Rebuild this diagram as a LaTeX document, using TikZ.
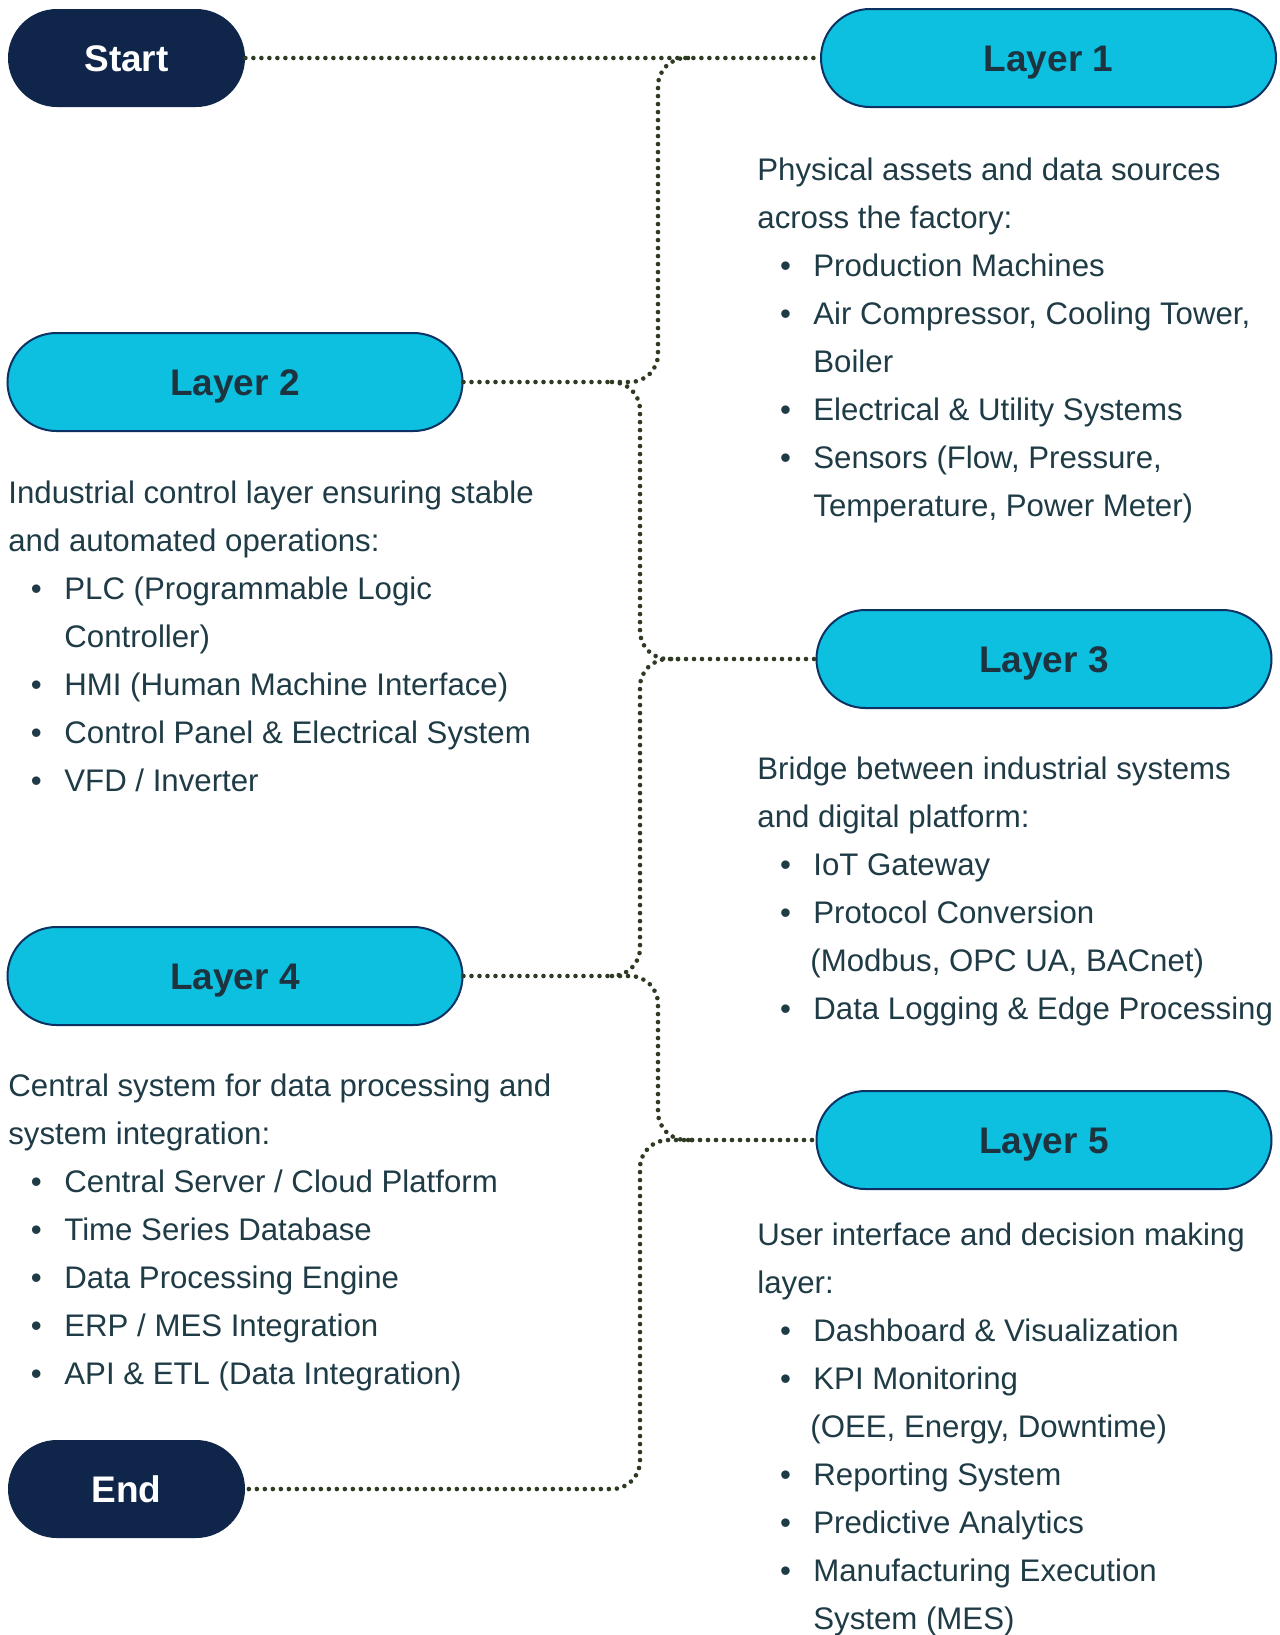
\documentclass[tikz,border=0pt]{standalone}
\usepackage{fontspec}
\setmainfont{Liberation Sans}
\usetikzlibrary{positioning,calc}

\definecolor{navy}{HTML}{0F2549}
\definecolor{layercyan}{HTML}{0DC0DF}
\definecolor{layerline}{HTML}{0B3263}
\definecolor{titletext}{HTML}{1D3440}
\definecolor{bodytext}{HTML}{1F3B46}
\definecolor{dotcolor}{HTML}{2E3B22}

\tikzstyle{block}=[align=center, rectangle, rounded corners=24.5pt, minimum height=49pt, text height=13.3pt, text depth=0pt, font=\bfseries\fontsize{18.5}{22}\selectfont]
\tikzstyle{terminal}=[block, fill=navy, text=white, minimum width=118.5pt]
\tikzstyle{layer}=[block, fill=layercyan, draw=layerline, line width=1pt, text=titletext, minimum width=227.5pt]
\tikzstyle{info}=[anchor=north west, inner sep=0pt, align=left, text=bodytext, font=\fontsize{15.6}{24}\selectfont]
\tikzstyle{link}=[draw=dotcolor, line width=2.3pt, line cap=round, dash pattern=on 0pt off 4pt, rounded corners=14pt]

\newcommand{\bitem}{\makebox[28pt][l]{\hspace*{11.3pt}\textbullet}}
\newcommand{\bcont}{\hspace*{28pt}}

\begin{document}
\begin{tikzpicture}[x=0.5pt,y=-0.5pt]
\fill[white] (0,0) rectangle (1280,1635);
\useasboundingbox (0,0) rectangle (1280,1635);

\draw (126.5,58) node[terminal] (start) {Start};
\draw (start) ++(922,0) node[layer] (l1) {Layer 1};
\draw (start) ++(108.5,324) node[layer] (l2) {Layer 2};
\draw (l1) ++(-4.5,601) node[layer] (l3) {Layer 3};
\draw (l2) ++(0,594) node[layer] (l4) {Layer 4};
\draw (l3) ++(0,481) node[layer] (l5) {Layer 5};
\draw (start) ++(0,1431) node[terminal] (stop) {End};

% junctions on the dotted tree
\coordinate (j1) at (688,58);
\coordinate (j2) at (612,382);
\coordinate (j3) at (678,659);
\coordinate (j4) at (612,976);
\coordinate (j5) at (692,1140);

\draw[link] (start) -- (l1);
\draw[link] (j1) -| (658,382) -- (j2);
\draw[link] (l2) -- (j2);
\draw[link] (j2) -| (640,659) -- (j3);
\draw[link] (j3) -- (l3);
\draw[link] (j3) -| (640,976) -- (j4);
\draw[link] (l4) -- (j4);
\draw[link] (j4) -| (658,1140) -- (j5);
\draw[link] (j5) -- (l5);
\draw[link] (j5) -| (640,1489) -- (stop);

\draw (757,157) node[info] (t1) {Physical assets and data sources\\
across the factory:\\
\bitem Production Machines\\
\bitem Air Compressor, Cooling Tower,\\
\bcont Boiler\\
\bitem Electrical \& Utility Systems\\
\bitem Sensors (Flow, Pressure,\\
\bcont Temperature, Power Meter)};

\draw (8,480) node[info] (t2) {Industrial control layer ensuring stable\\
and automated operations:\\
\bitem PLC (Programmable Logic\\
\bcont Controller)\\
\bitem HMI (Human Machine Interface)\\
\bitem Control Panel \& Electrical System\\
\bitem VFD / Inverter};

\draw (757,756) node[info] (t3) {Bridge between industrial systems\\
and digital platform:\\
\bitem IoT Gateway\\
\bitem Protocol Conversion\\
\hspace*{26.5pt}(Modbus, OPC UA, BACnet)\\
\bitem Data Logging \& Edge Processing};

\draw (8,1073) node[info] (t4) {Central system for data processing and\\
system integration:\\
\bitem Central Server / Cloud Platform\\
\bitem Time Series Database\\
\bitem Data Processing Engine\\
\bitem ERP / MES Integration\\
\bitem API \& ETL (Data Integration)};

\draw (757,1222) node[info] (t5) {User interface and decision making\\
layer:\\
\bitem Dashboard \& Visualization\\
\bitem KPI Monitoring\\
\hspace*{26.5pt}(OEE, Energy, Downtime)\\
\bitem Reporting System\\
\bitem Predictive Analytics\\
\bitem Manufacturing Execution\\
\bcont System (MES)};

\end{tikzpicture}
\end{document}
